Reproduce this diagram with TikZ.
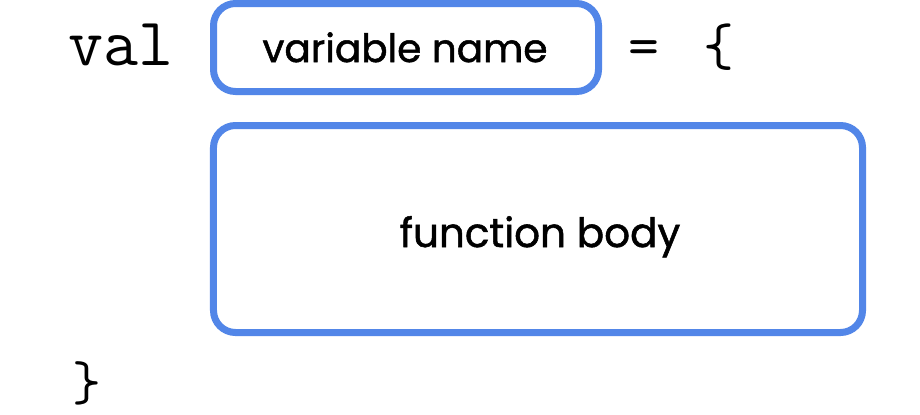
\documentclass[tikz,border=0pt]{standalone}
\usepackage{fontspec}
\newfontfamily\gsans[FakeBold=1.3]{Poppins}
\definecolor{boxblue}{RGB}{82,134,232}
\begin{document}
\begin{tikzpicture}[x=1bp,y=-1bp,
  box/.style={draw=boxblue, line width=7bp, rounded corners=22bp, inner sep=0pt, fill=white},
  lbl/.style={font=\gsans\fontsize{39bp}{44bp}\selectfont, inner sep=0pt, anchor=base},
  code/.style={font=\ttfamily\fontsize{60bp}{66bp}\selectfont, inner sep=0pt, anchor=base}]
\useasboundingbox[fill=white] (0,0) rectangle (920,414);
\node[box, minimum width=385bp, minimum height=88bp] (varbox) at (406,47.5) {};
\node[box, minimum width=649bp, minimum height=207bp] (bodybox) at (538,229) {};
\node[lbl] (varname) at (405,62) {variable name};
\node[lbl, font=\gsans\fontsize{40.5bp}{44bp}\selectfont] (body) at (540,247) {function body};
\node[code, font=\ttfamily\fontsize{68bp}{72bp}\selectfont] (val) at (121,65) {val};
\node[code] (eq) at (644,65) {=};
\node[code] (open) at (718.5,65) {\{};
\node[code, font=\ttfamily\fontsize{56bp}{60bp}\selectfont] (close) at (86.5,400) {\}};
\end{tikzpicture}
\end{document}
